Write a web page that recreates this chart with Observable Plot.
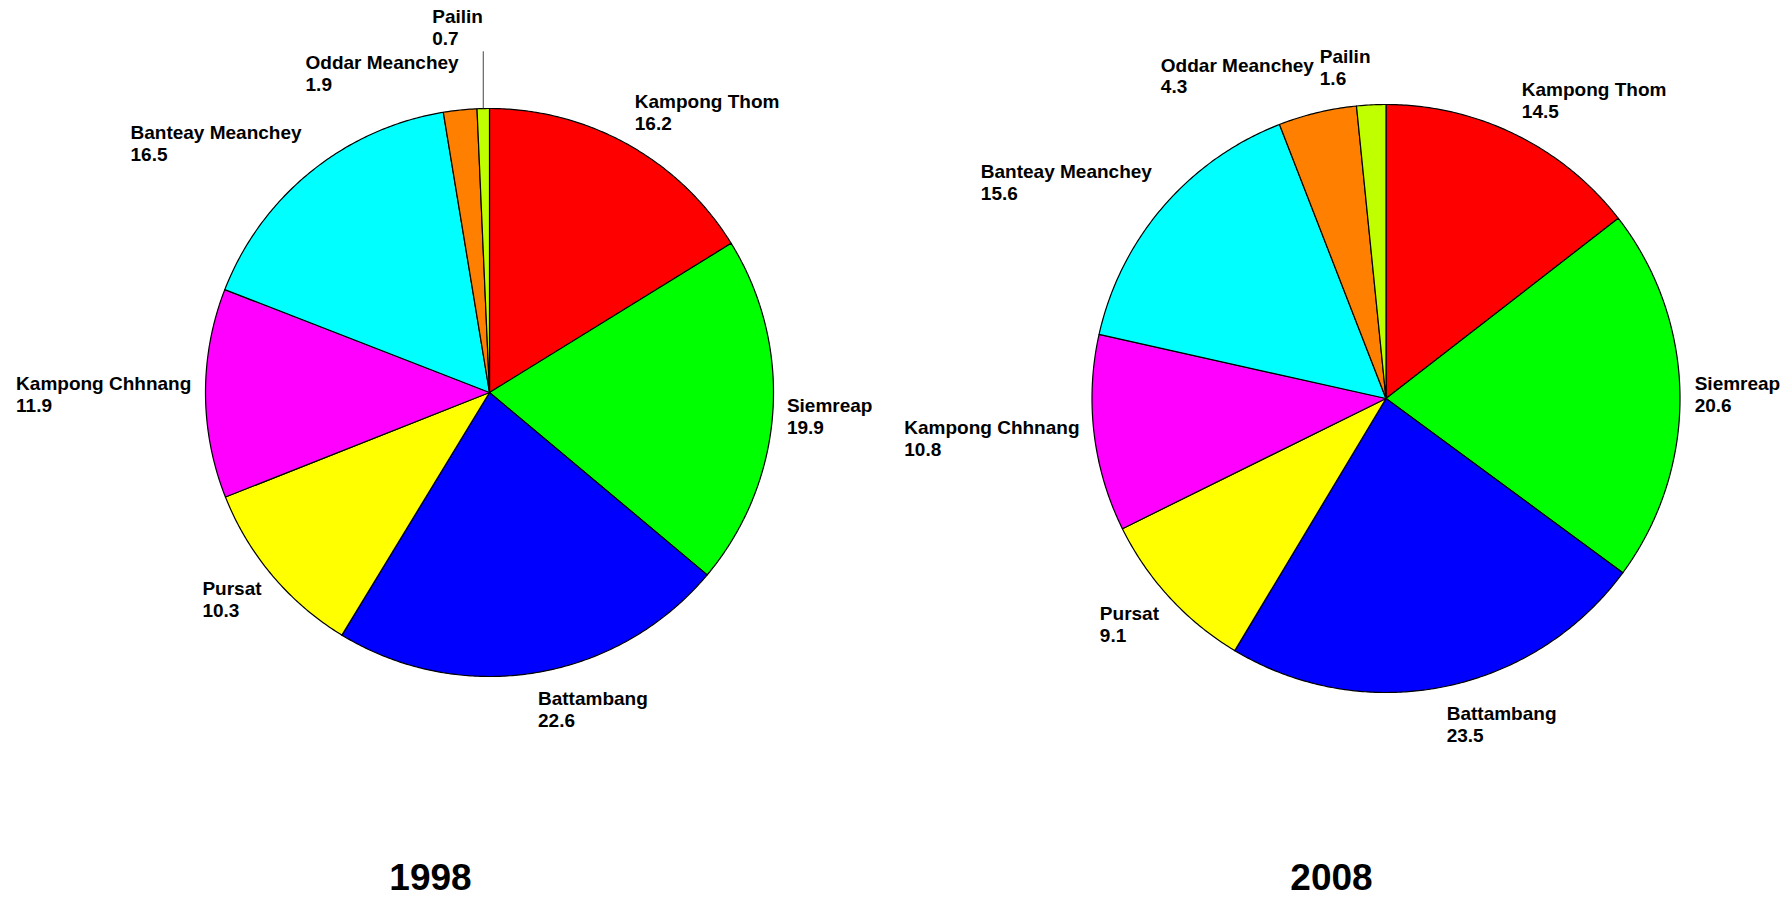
<!DOCTYPE html>
<html><head><meta charset="utf-8">
<script src="https://cdn.jsdelivr.net/npm/d3@7"></script>
<script src="https://cdn.jsdelivr.net/npm/@observablehq/plot@0.6"></script>
<style>html,body{margin:0;padding:0;background:#fff;} #chart svg{display:block}</style>
</head><body><div id="chart"></div>
<script>
// ---- data ----
const provinces = ["Kampong Thom","Siemreap","Battambang","Pursat","Kampong Chhnang","Banteay Meanchey","Oddar Meanchey","Pailin"];
const sliceColors = ["#FF0000","#00FF00","#0000FF","#FFFF00","#FF00FF","#00FFFF","#FF8000","#BFFF00"];
const years = ["1998","2008"];
const values1998 = [16.2,19.9,22.6,10.3,11.9,16.5,1.9,0.7];
const values2008 = [14.5,20.6,23.5,9.1,10.8,15.6,4.3,1.6];
const seriesValues = [values1998, values2008];

// ---- layout ----
const W = 1792, H = 898;
const panels = [{cx:489, cy:392, r:284, titleX:430}, {cx:1385.5, cy:398, r:294, titleX:1331}];
const titleBaseline = 889;
const FONT = "'Liberation Sans', Arial, Helvetica, sans-serif";
const labelSize = 19, lineH = 22, titleSize = 37;
const labelRx = 1.05, labelRy = 1.13; // label anchor distance (in radii)

const ctx = document.createElement("canvas").getContext("2d");
ctx.font = `bold ${labelSize}px ${FONT}`;
const measure = s => ctx.measureText(s).width;
const fmt = d3.format(".1f");

const polys = [], labels = [], leaders = [], titles = [];
years.forEach((year, k) => {
  const {cx, cy, r, titleX} = panels[k];
  const vals = seriesValues[k];
  const arcs = d3.pie().sort(null).value(d => d)(vals);
  const placed = [];
  arcs.forEach((a, i) => {
    const id = year + "-" + i;
    const pts = [{id, x: cx, y: cy, color: sliceColors[i]}];
    const n = Math.max(4, Math.ceil((a.endAngle - a.startAngle) / (Math.PI / 360)));
    for (let s = 0; s <= n; s++) {
      const t = a.startAngle + (a.endAngle - a.startAngle) * s / n;
      pts.push({id, x: cx + r * Math.sin(t), y: cy - r * Math.cos(t), color: sliceColors[i]});
    }
    pts.push({id, x: cx, y: cy, color: sliceColors[i]});
    polys.push(...pts);

    const mid = (a.startAngle + a.endAngle) / 2;
    const ax = cx + labelRx * r * Math.sin(mid), ay = cy - labelRy * r * Math.cos(mid);
    const txt = provinces[i] + "\n" + fmt(vals[i]);
    const w = Math.max(measure(provinces[i]), measure(fmt(vals[i])));
    const right = Math.sin(mid) >= 0;
    const lab = {text: txt, x: right ? ax : ax - w, y: ay, w, ay, mid, up: ay < cy};
    // simple collision avoidance
    for (let pass = 0; pass < 5; pass++) {
      let moved = false;
      for (const o of placed) {
        const ox = lab.x < o.x + o.w && o.x < lab.x + lab.w;
        const oy = Math.abs(lab.y - o.y) < 2 * lineH;
        if (ox && oy) {
          lab.y = lab.up ? o.y - 2 * lineH - 2 : o.y + 2 * lineH + 2;
          moved = true;
        }
      }
      if (!moved) break;
    }
    placed.push(lab);
    labels.push(lab);
    if (Math.abs(lab.y - ay) > 8) {
      const ex = cx + r * Math.sin(mid), ey = cy - r * Math.cos(mid);
      leaders.push({x1: ex, y1: ey, x2: ex, y2: lab.up ? lab.y + lineH + 2 : lab.y - lineH - 2});
    }
  });
  titles.push({text: year, x: titleX, y: titleBaseline});
});

const chart = Plot.plot({
  width: W, height: H,
  margin: 0,
  x: {domain: [0, W], range: [0, W], axis: null},
  y: {domain: [0, H], range: [0, H], axis: null},
  color: {type: "identity"},
  style: {fontFamily: FONT, background: "#fff"},
  marks: [
    Plot.line(polys, {x: "x", y: "y", z: "id", fill: "color", stroke: "#000", strokeWidth: 1.2, curve: "linear", strokeLinejoin: "round"}),
    Plot.link(leaders, {x1: "x1", y1: "y1", x2: "x2", y2: "y2", stroke: "#444", strokeWidth: 1}),
    Plot.text(labels, {x: "x", y: "y", text: "text", textAnchor: "start", lineAnchor: "middle", lineHeight: lineH / labelSize, fontSize: labelSize, fontWeight: "bold", fill: "#000"}),
    Plot.text(titles, {x: "x", y: "y", text: "text", textAnchor: "middle", lineAnchor: "bottom", fontSize: titleSize, fontWeight: "bold", fill: "#000"})
  ]
});
document.getElementById("chart").appendChild(chart);
</script>
</body></html>
